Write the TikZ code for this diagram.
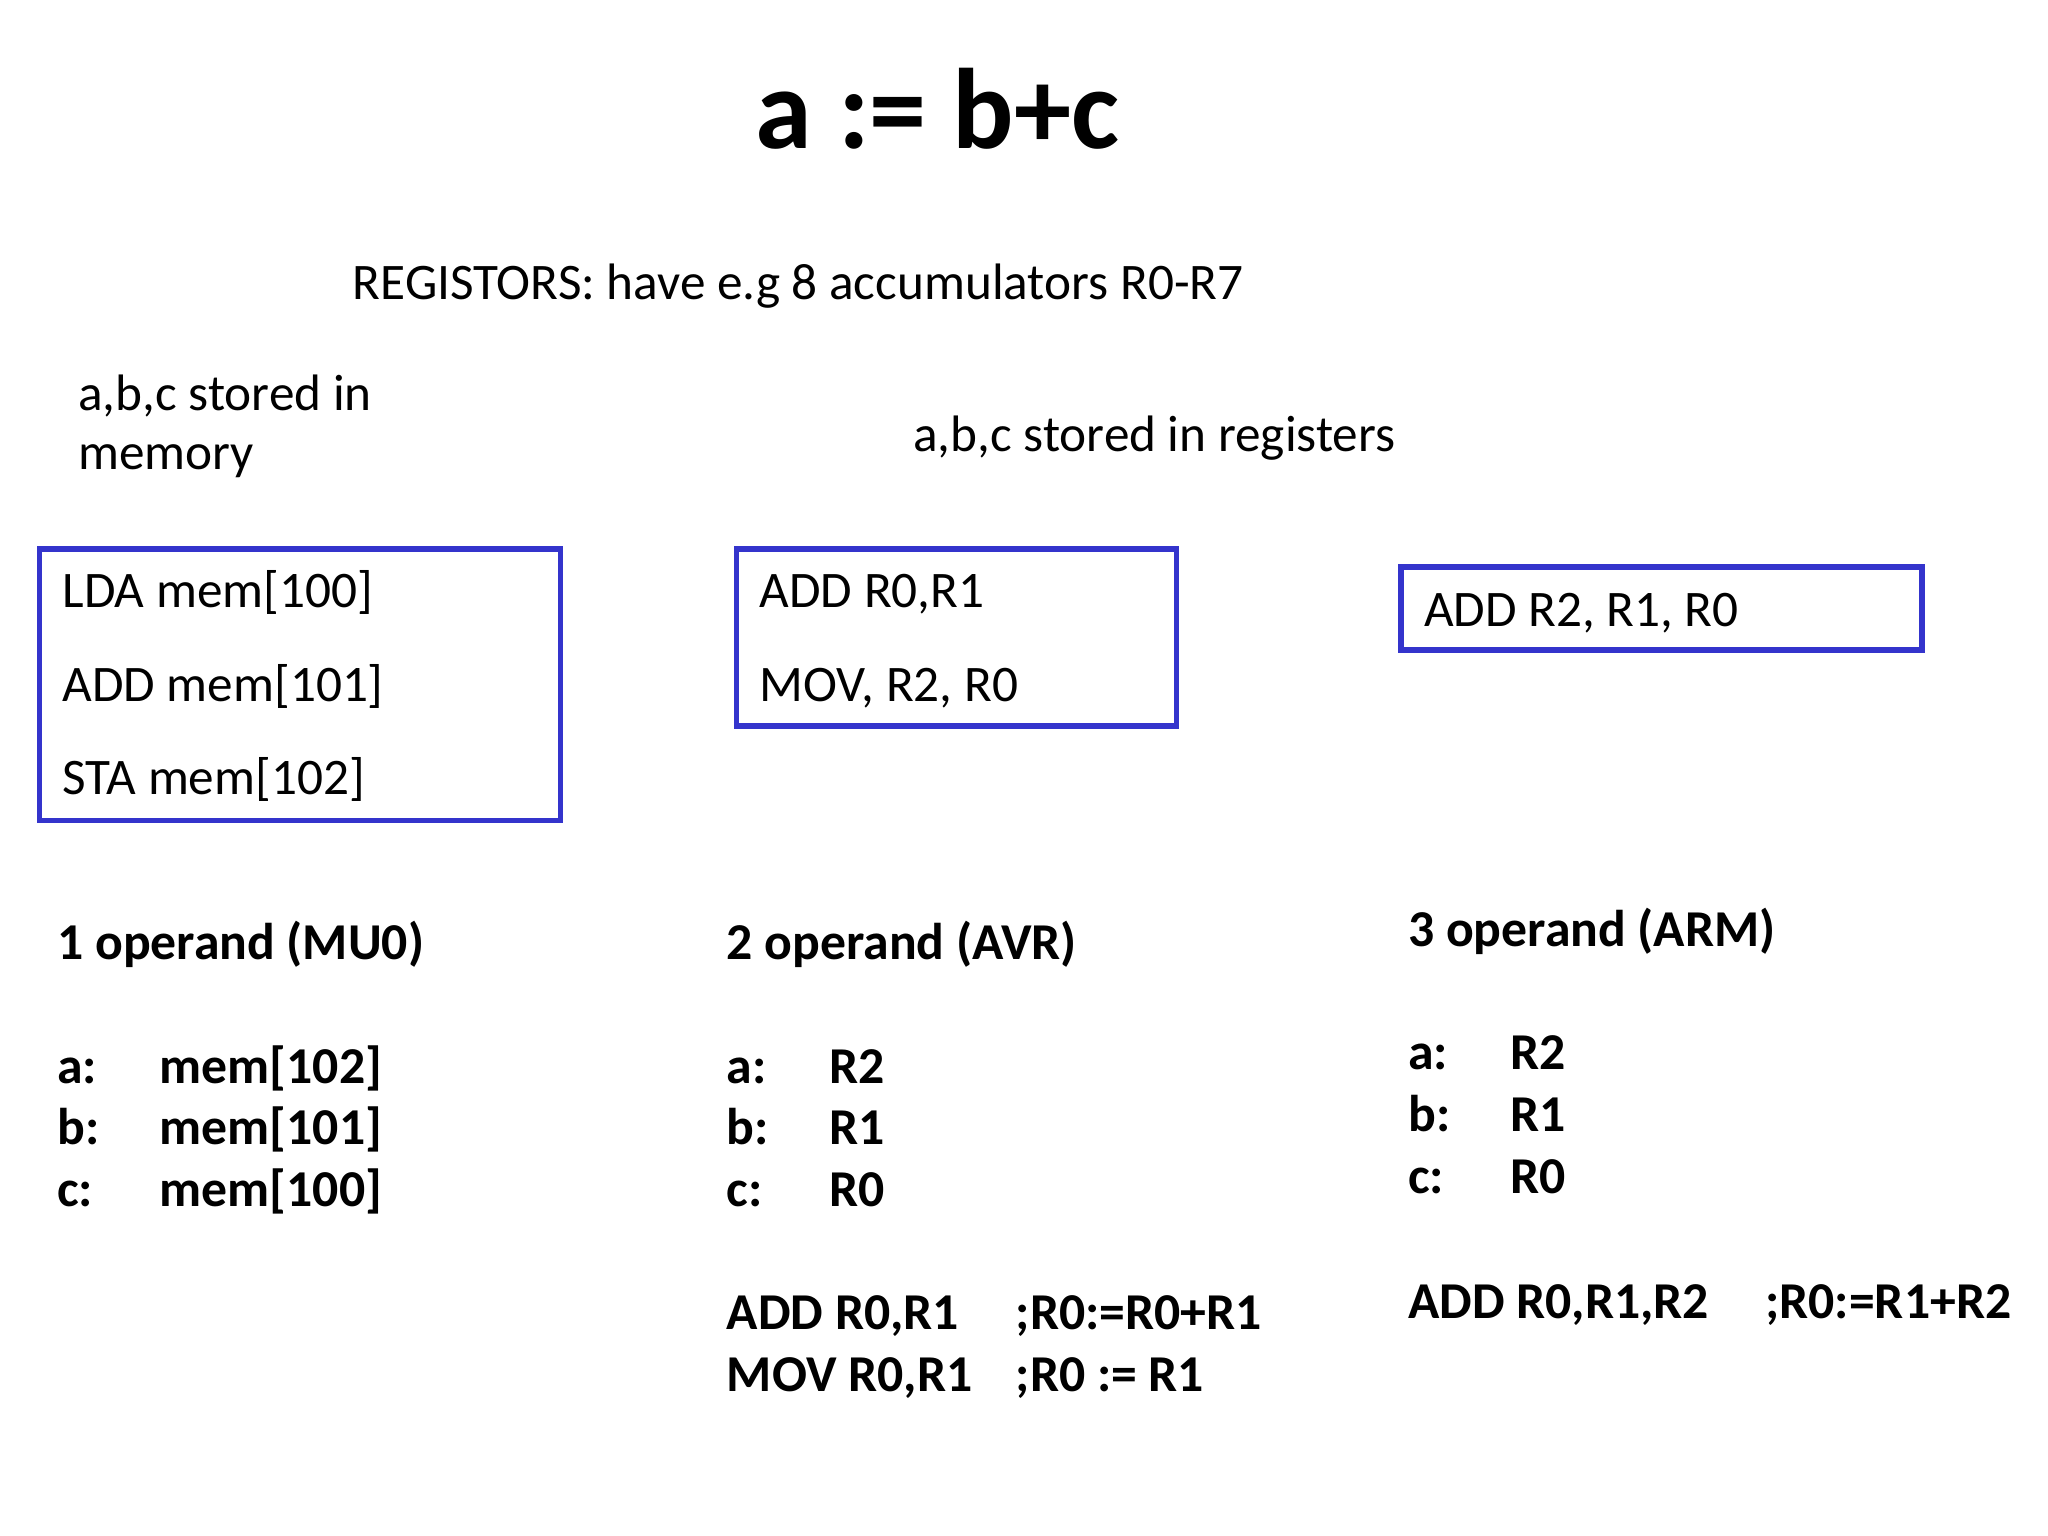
\documentclass[tikz,border=0pt]{standalone}
\usepackage{fontspec}
\setmainfont{Carlito}
\definecolor{boxblue}{RGB}{52,52,204}
\begin{document}
\begin{tikzpicture}[x=0.01cm,y=-0.01cm,
  txt/.style={anchor=base west,inner sep=0pt,font=\fontsize{11.1pt}{13pt}\selectfont},
  btxt/.style={txt,font=\fontsize{11.2pt}{13pt}\selectfont\bfseries},
  codebox/.style={draw=boxblue,line width=1.2pt}]
\useasboundingbox (0,0) rectangle (1560,1170);
\node[anchor=base west,inner sep=0pt,font=\fontsize{24.8pt}{28pt}\selectfont\bfseries] (title) at (575,113) {a := b+c};
\node[txt] (reg) at (268,228) {REGISTORS: have e.g 8 accumulators R0-R7};
\node[txt] (m1) at (59,313) {a,b,c stored in};
\node[txt] (m2) at (59,358) {memory};
\node[txt] (r1) at (695,344) {a,b,c stored in registers};
\draw[codebox] (30,418) rectangle (427,625);
\node[txt] (l1) at (47,463) {LDA mem[100]};
\node[txt] (l2) at (47,534) {ADD mem[101]};
\node[txt] (l3) at (47,605) {STA mem[102]};
\draw[codebox] (561,418) rectangle (896,553);
\node[txt] (k1) at (578,463) {ADD R0,R1};
\node[txt] (k2) at (578,534) {MOV, R2, R0};
\draw[codebox] (1067,432) rectangle (1464,495);
\node[txt] (j1) at (1084,477) {ADD R2, R1, R0};
\node[btxt] (h1) at (43,731) {1 operand (MU0)};
\node[btxt] (h2) at (553,731) {2 operand (AVR)};
\node[btxt] (h3) at (1072,721) {3 operand (ARM)};
\foreach \lab/\v/\y in {a:/mem[102]/825,b:/mem[101]/872,c:/mem[100]/919}{
  \node[btxt] at (43,\y) {\lab}; \node[btxt] at (121,\y) {\v};}
\foreach \lab/\v/\y in {a:/R2/825,b:/R1/872,c:/R0/919}{
  \node[btxt] at (553,\y) {\lab}; \node[btxt] at (631,\y) {\v};}
\foreach \lab/\v/\y in {a:/R2/815,b:/R1/862,c:/R0/909}{
  \node[btxt] at (1072,\y) {\lab}; \node[btxt] at (1150,\y) {\v};}
\node[btxt] (c1) at (553,1013) {ADD R0,R1};
\node[btxt] (c1b) at (773,1013) {;R0:=R0+R1};
\node[btxt] (c2) at (553,1060) {MOV R0,R1};
\node[btxt] (c2b) at (773,1060) {;R0 := R1};
\node[btxt] (c3) at (1072,1004) {ADD R0,R1,R2};
\node[btxt] (c3b) at (1344,1004) {;R0:=R1+R2};
\end{tikzpicture}
\end{document}
